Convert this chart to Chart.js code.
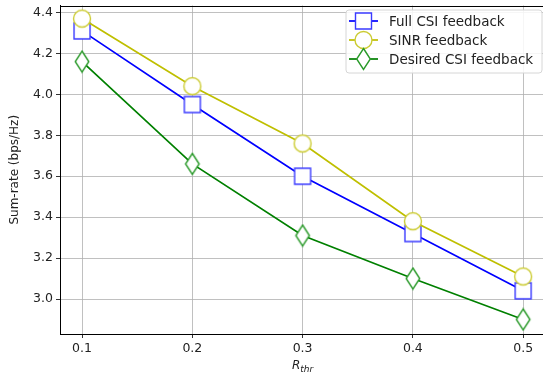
<!DOCTYPE html>
<html>
<head>
<meta charset="utf-8">
<script src="https://cdn.jsdelivr.net/npm/chart.js@4/dist/chart.umd.min.js"></script>
<style>
  html, body { margin: 0; padding: 0; background: #fff; overflow: hidden; }
  #wrap { width: 543px; height: 375px; position: relative; overflow: hidden; }
  #chartCanvas { position: absolute; left: 0; top: -6px; }
</style>
</head>
<body>
<div id="wrap"><canvas id="chartCanvas" width="563" height="381"></canvas></div>
<script>
// data
const rThr = [0.1, 0.2, 0.3, 0.4, 0.5];
const fullCsi = [4.31, 3.95, 3.60, 3.32, 3.04];
const sinrFb = [4.37, 4.04, 3.76, 3.38, 3.11];
const desiredCsi = [4.16, 3.66, 3.31, 3.10, 2.90];
const xTicks = [0.1, 0.2, 0.3, 0.4, 0.5];
const yTicks = [3.0, 3.2, 3.4, 3.6, 3.8, 4.0, 4.2, 4.4];
const seriesNames = ['Full CSI feedback', 'SINR feedback', 'Desired CSI feedback'];

const FONT = '"DejaVu Sans", sans-serif';
const OFFY = 6; // canvas is shifted up by 6px

// marker shapes (matplotlib s, o, d)
function markerPath(ctx, kind, x, y) {
  ctx.beginPath();
  if (kind === 'square') {
    ctx.rect(x - 8, y - 8, 16, 16);
  } else if (kind === 'circle') {
    ctx.arc(x, y, 8.5, 0, Math.PI * 2);
  } else {
    ctx.moveTo(x, y - 10.5);
    ctx.lineTo(x + 6.8, y);
    ctx.lineTo(x, y + 10.5);
    ctx.lineTo(x - 6.8, y);
    ctx.closePath();
  }
}

function drawMarker(ctx, kind, x, y, color) {
  ctx.save();
  markerPath(ctx, kind, x, y);
  ctx.fillStyle = '#fff';
  ctx.fill();
  ctx.strokeStyle = color;
  ctx.lineWidth = 1.4;
  ctx.stroke();
  ctx.restore();
}

function markerImage(kind, color) {
  const c = document.createElement('canvas');
  c.width = 24; c.height = 24;
  drawMarker(c.getContext('2d'), kind, 12, 12, color);
  return c;
}

const colors = ['#0000ff', '#bfbf00', '#008000'];
const markerColors = ['#3a3aff', '#cccc33', '#2a9a2a'];
const kinds = ['square', 'circle', 'diamond'];

function toPoints(arr) {
  return arr.map((v, i) => ({ x: rThr[i], y: v }));
}

const extras = {
  id: 'extras',
  afterDraw(chart) {
    const ctx = chart.ctx;
    const a = chart.chartArea;
    ctx.save();
    // top spine
    ctx.strokeStyle = '#000';
    ctx.lineWidth = 1;
    ctx.beginPath();
    ctx.moveTo(a.left, Math.round(a.top) + 0.5);
    ctx.lineTo(a.right, Math.round(a.top) + 0.5);
    ctx.stroke();

    // y title
    ctx.fillStyle = '#222';
    ctx.font = '12px ' + FONT;
    ctx.textAlign = 'center';
    ctx.textBaseline = 'middle';
    ctx.save();
    ctx.translate(15, (a.top + a.bottom) / 2);
    ctx.rotate(-Math.PI / 2);
    ctx.fillText('Sum-rate (bps/Hz)', 0, 0);
    ctx.restore();

    // x title: R with subscript thr
    const cx = chart.scales.x.getPixelForValue(0.3);
    ctx.textAlign = 'left';
    ctx.textBaseline = 'alphabetic';
    ctx.font = 'italic 12px ' + FONT;
    const wR = ctx.measureText('R').width;
    ctx.font = 'italic 9px ' + FONT;
    const wS = ctx.measureText('thr').width;
    const x0 = cx - (wR + wS) / 2;
    ctx.font = 'italic 12px ' + FONT;
    ctx.fillText('R', x0, 369 + OFFY);
    ctx.font = 'italic 9px ' + FONT;
    ctx.fillText('thr', x0 + wR, 372 + OFFY);

    // legend box
    const lx = 346, ly = 10 + OFFY, lw = 196, lh = 63;
    ctx.beginPath();
    ctx.roundRect(lx, ly, lw, lh, 3);
    ctx.fillStyle = 'rgba(255,255,255,0.85)';
    ctx.fill();
    ctx.strokeStyle = '#d6d6d6';
    ctx.lineWidth = 1;
    ctx.stroke();
    ctx.font = '13.5px ' + FONT;
    ctx.textBaseline = 'middle';
    for (let i = 0; i < seriesNames.length; i++) {
      const yy = 21 + OFFY + i * 19;
      ctx.strokeStyle = colors[i];
      ctx.lineWidth = 1.7;
      ctx.beginPath();
      ctx.moveTo(349, yy);
      ctx.lineTo(378, yy);
      ctx.stroke();
      drawMarker(ctx, kinds[i], 363.5, yy, markerColors[i]);
      ctx.fillStyle = '#222';
      ctx.fillText(seriesNames[i], 389, yy + 1);
    }
    ctx.restore();
  }
};

const series = [fullCsi, sinrFb, desiredCsi];
const datasets = series.map((s, i) => ({
  label: seriesNames[i],
  data: toPoints(s),
  borderColor: colors[i],
  backgroundColor: colors[i],
  borderWidth: 1.7,
  pointStyle: markerImage(kinds[i], markerColors[i]),
  pointRadius: 9,
  order: 3 - i,
  tension: 0
}));

const chartCanvas = document.getElementById('chartCanvas');
new Chart(chartCanvas, {
  type: 'line',
  data: { datasets: datasets },
  plugins: [extras],
  options: {
    responsive: false,
    animation: false,
    events: [],
    layout: { padding: { top: 11.5, right: 20, left: 0, bottom: 0 } },
    plugins: { legend: { display: false }, tooltip: { enabled: false } },
    scales: {
      x: {
        type: 'linear',
        min: 0.08,
        max: 0.518,
        afterBuildTicks: function(scale) {
          scale.ticks = xTicks.map(v => ({ value: v }));
        },
        afterFit: function(scale) { scale.height = 41; },
        ticks: {
          color: '#222',
          font: { family: FONT, size: 12.5 },
          padding: 3,
          maxRotation: 0,
          callback: v => v.toFixed(1)
        },
        grid: { color: '#b0b0b0', lineWidth: 0.8, tickLength: 4, tickColor: '#000' },
        border: { color: '#000', width: 1 }
      },
      y: {
        type: 'linear',
        min: 2.829,
        max: 4.434,
        afterBuildTicks: function(scale) {
          scale.ticks = yTicks.map(v => ({ value: v }));
        },
        afterFit: function(scale) { scale.width = 60; },
        ticks: {
          color: '#222',
          font: { family: FONT, size: 12.5 },
          padding: 3,
          callback: v => v.toFixed(1)
        },
        grid: { color: '#b0b0b0', lineWidth: 0.8, tickLength: 4, tickColor: '#000' },
        border: { color: '#000', width: 1 }
      }
    }
  }
});
</script>
</body>
</html>
